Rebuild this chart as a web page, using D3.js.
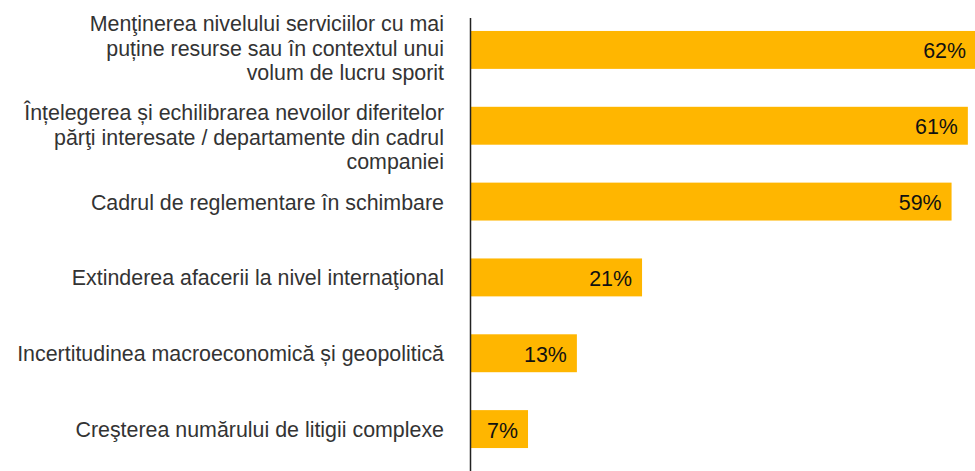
<!DOCTYPE html>
<html>
<head>
<meta charset="utf-8">
<script src="https://cdn.jsdelivr.net/npm/d3@7"></script>
<style>
  body { margin: 0; background: #fff; }
  svg { display: block; font-family: "Liberation Sans", Arial, sans-serif; }
</style>
</head>
<body>
<script>
// chart data
var categories = [
  "Menţinerea nivelului serviciilor cu mai\npuține resurse sau în contextul unui\nvolum de lucru sporit",
  "Înțelegerea și echilibrarea nevoilor diferitelor\npărţi interesate / departamente din cadrul\ncompaniei",
  "Cadrul de reglementare în schimbare",
  "Extinderea afacerii la nivel internaţional",
  "Incertitudinea macroeconomică și geopolitică",
  "Creşterea numărului de litigii complexe"
];
var values = [62, 61, 59, 21, 13, 7];

var width = 975,
    height = 471;

var svg = d3.select("body").append("svg")
    .attr("width", width)
    .attr("height", height);

var x = d3.scaleLinear().domain([0, 62]).range([471, 976]);
var y = d3.scaleBand().domain(categories).range([12, 467])
    .paddingInner(0.5).paddingOuter(0.25);

var data = categories.map(function(c, i) { return {cat: c, val: values[i], i: i}; });

// bars
svg.append("g").selectAll("rect")
    .data(data)
    .enter().append("rect")
    .attr("x", x(0))
    .attr("y", function(d) { return y(d.cat); })
    .attr("width", function(d) { return x(d.val) - x(0); })
    .attr("height", y.bandwidth())
    .attr("fill", "#FFB600");

// value labels inside bars
svg.append("g").selectAll("text")
    .data(data)
    .enter().append("text")
    .attr("x", function(d) { return x(d.val) - 10; })
    .attr("y", function(d) { return y(d.cat) + y.bandwidth() / 2; })
    .attr("dy", "0.4em")
    .attr("text-anchor", "end")
    .attr("font-size", 21.4)
    .attr("fill", "#111")
    .text(function(d) { return d.val + "%"; });

// category labels (multi-line)
var lineH = 24.5;
var shift = {0: -2, 1: 11};
var lab = svg.append("g").selectAll("text")
    .data(data)
    .enter().append("text")
    .attr("text-anchor", "end")
    .attr("font-size", 21.4)
    .attr("fill", "#333");

lab.each(function(d) {
  var lines = d.cat.split("\n");
  var cy = y(d.cat) + y.bandwidth() / 2;
  var first = cy + 8 - (lines.length - 1) * lineH / 2 + (shift[d.i] || 0);
  d3.select(this).selectAll("tspan")
    .data(lines)
    .enter().append("tspan")
    .attr("x", 444)
    .attr("y", function(l, k) { return first + k * lineH; })
    .text(function(l) { return l; });
});

// vertical axis line
svg.append("line")
    .attr("x1", 470.5).attr("x2", 470.5)
    .attr("y1", 18).attr("y2", height)
    .attr("stroke", "#222")
    .attr("stroke-width", 1.5);
</script>
</body>
</html>
